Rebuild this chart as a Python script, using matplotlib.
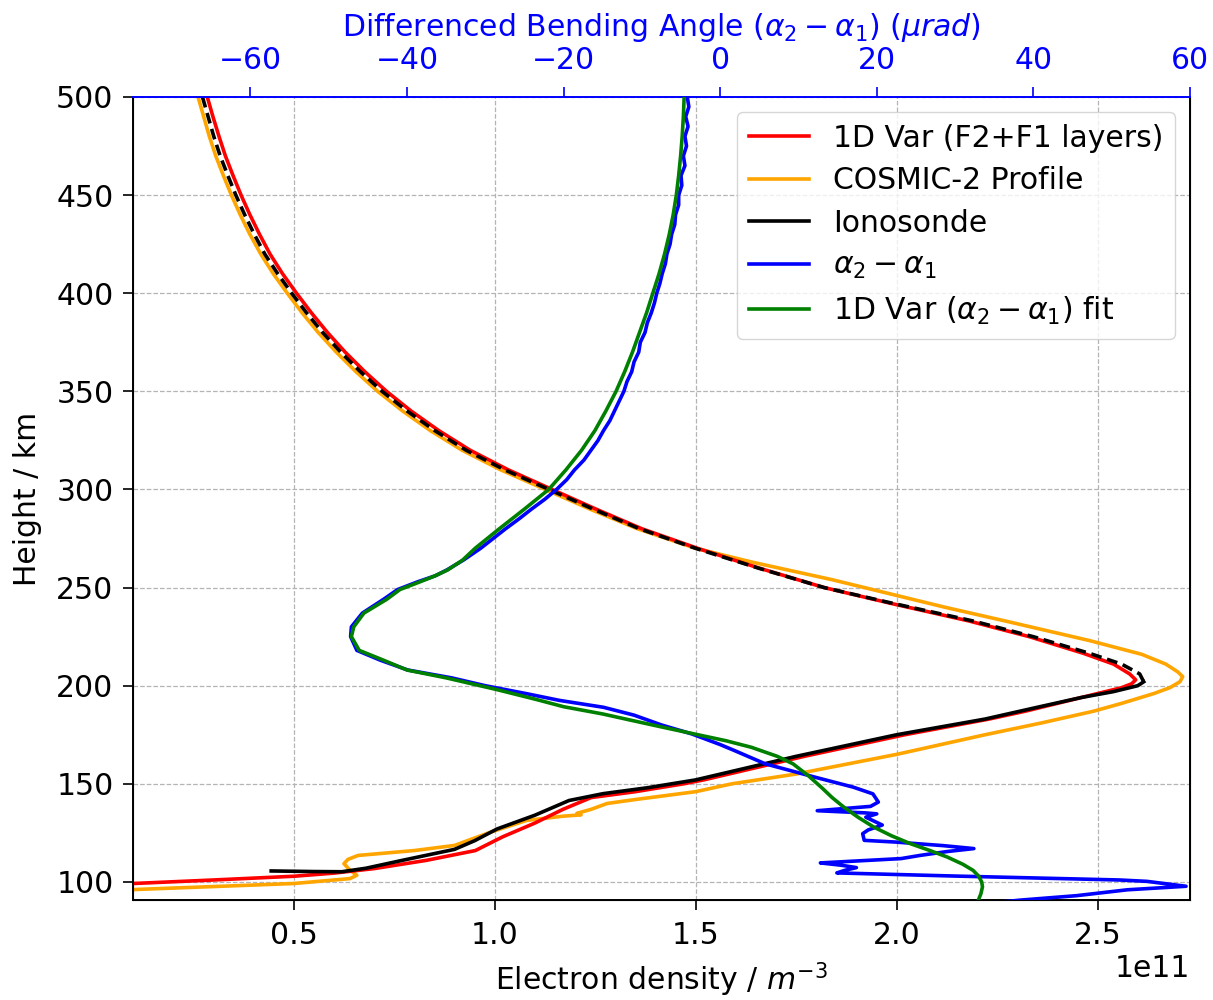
import numpy as np
import matplotlib
matplotlib.use("Agg")
import matplotlib.pyplot as plt

plt.rcParams['font.family'] = ['DejaVu Sans']
plt.rcParams['font.size'] = 21.5

# Electron density profiles (units of 1e11 m^-3) against height (km)
var_h = [500, 490, 480, 470, 460, 450, 440, 430, 420, 410, 400, 390, 380, 370, 360,
         350, 340, 330, 320, 310, 300, 290, 280, 270, 260, 250, 242, 233, 225, 216.5,
         211, 206, 203, 201, 199, 196, 192, 187, 183, 175, 164, 152, 150, 146, 143,
         137, 130, 123, 116, 111, 106.8, 104.5, 102.9, 101, 99.2]
var_ne = [0.285, 0.299, 0.314, 0.330, 0.349, 0.369, 0.391, 0.415, 0.441, 0.472, 0.507,
          0.544, 0.584, 0.628, 0.677, 0.731, 0.792, 0.861, 0.939, 1.034, 1.143, 1.252,
          1.366, 1.505, 1.657, 1.82, 1.985, 2.18, 2.33, 2.465, 2.54, 2.58, 2.595, 2.585,
          2.56, 2.50, 2.42, 2.32, 2.23, 2.02, 1.77, 1.52, 1.47, 1.35, 1.24, 1.17, 1.10,
          1.02, 0.952, 0.83, 0.70, 0.60, 0.50, 0.30, 0.10]

cosmic_h = [500, 490, 480, 470, 460, 450, 440, 430, 420, 410, 400, 390, 380, 370, 360,
            350, 340, 330, 320, 310, 300, 290, 280, 270, 263, 254, 246, 240, 233, 223,
            216, 211, 207, 204.6, 202, 199, 196, 191, 187, 181, 175, 165, 155, 150, 146,
            142, 140, 137, 135, 134.2, 133.5, 131.4, 125.4, 118.6, 116, 113.5, 111.5,
            109.3, 106, 103.4, 101.7, 99.2, 96.1]
cosmic_ne = [0.262, 0.276, 0.290, 0.306, 0.325, 0.345, 0.367, 0.391, 0.418, 0.449, 0.484,
             0.521, 0.561, 0.606, 0.655, 0.709, 0.771, 0.840, 0.919, 1.015, 1.126, 1.237,
             1.355, 1.50, 1.64, 1.84, 2.00, 2.12, 2.27, 2.48, 2.61, 2.67, 2.70, 2.712,
             2.705, 2.68, 2.64, 2.56, 2.49, 2.36, 2.22, 2.0, 1.75, 1.59, 1.50, 1.35, 1.28,
             1.24, 1.205, 1.215, 1.17, 1.08, 0.99, 0.90, 0.80, 0.66, 0.635, 0.625, 0.64,
             0.657, 0.64, 0.50, 0.10]

# Ionosonde: measured bottomside and extrapolated topside
iono_bottom_h = [202, 200, 197, 194, 189, 183, 175, 164, 152, 148, 145, 141.5, 134,
                 127, 121, 116.6, 111, 107, 105.2, 105.3, 105.6]
iono_bottom_ne = [2.615, 2.60, 2.54, 2.46, 2.35, 2.22, 2.0, 1.75, 1.50, 1.38, 1.27,
                  1.185, 1.10, 1.006, 0.95, 0.90, 0.77, 0.68, 0.62, 0.55, 0.444]
iono_top_h = [500, 490, 480, 470, 460, 450, 440, 430, 420, 410, 400, 390, 380, 370,
              360, 350, 340, 330, 320, 310, 300, 290, 280, 270, 260, 250, 242, 233, 225,
              216.5, 211, 206, 202]
iono_top_ne = [0.273, 0.287, 0.301, 0.317, 0.336, 0.356, 0.378, 0.402, 0.428, 0.460,
               0.495, 0.532, 0.572, 0.617, 0.666, 0.720, 0.782, 0.851, 0.929, 1.025,
               1.135, 1.245, 1.36, 1.50, 1.655, 1.82, 1.99, 2.19, 2.34, 2.48, 2.56,
               2.605, 2.615]

# Differenced bending angle (micro-radians) against impact height (km)
dba_h = [500, 495, 490, 485, 480, 475, 470, 465, 460, 455, 450, 445, 440, 435, 430,
         425, 420, 415, 410, 405, 400, 395, 390, 385, 380, 375, 370, 365, 360, 355,
         350, 345, 340, 335, 330, 325, 320, 315, 310, 305, 300, 295, 290, 285, 280,
         275, 270, 264, 259, 256, 253, 249, 244, 237, 230, 225, 218, 213, 208, 204, 200,
         196, 192.5, 189, 185, 180, 175.4, 170, 167, 160.2, 153.4, 148.3, 144.9, 140.7,
         138.5, 136.3, 135.2, 134.7, 133.0, 129.0, 126.5, 124.6, 121.2, 120.3, 118.5,
         117.0, 115.5, 113.5, 111.9, 109.7, 108.5, 107.3, 106.0, 104.6, 103.0, 101.0,
         100.3, 97.8, 96.0, 93.0, 90.7, 90.0]
dba = [-4.2, -4.0, -4.4, -4.1, -4.5, -4.3, -4.7, -4.5, -5.0, -4.9, -5.3, -5.3, -5.7,
       -5.8, -6.2, -6.4, -6.8, -7.0, -7.4, -7.7, -8.1, -8.4, -8.8, -9.3, -9.6, -10.2,
       -10.4, -11.0, -11.3, -11.9, -12.3, -12.9, -13.5, -14.1, -14.9, -15.6, -16.5,
       -17.4, -18.6, -19.6, -20.9, -22.4, -24.1, -25.7, -27.4, -29.0, -30.6, -32.8,
       -34.9, -36.4, -38.6, -41.2, -43.0, -45.7, -47.1, -47.2, -46.4, -43.4, -39.9,
       -34.3, -30.0, -24.8, -20.5, -14.9, -11.0, -7.5, -3.6, 0.0, 1.8, 5.75, 12.1,
       17.0, 19.5, 20.2, 19.2, 12.4, 18.5, 20.0, 18.6, 20.7, 18.9, 18.2, 18.4, 22.5,
       28.5, 32.4, 29.0, 25.5, 23.1, 12.8, 15.5, 17.4, 16.0, 14.9, 30.0, 51.0, 54.5,
       59.5, 52.0, 45.5, 38.2, 36.5]

fit_h = [500, 490, 480, 470, 460, 450, 440, 430, 420, 410, 400, 390, 380, 370, 360,
         350, 340, 330, 320, 310, 300, 290, 280, 270, 264, 259, 256, 253, 249, 244,
         237, 230, 225, 218, 213, 208, 204, 198, 193, 189.3, 185.6, 182.5, 179, 175.4,
         172, 168.6, 164, 160.2, 154, 148.3, 143, 138.1, 133, 128, 123.5, 119.5, 116,
         112.7, 109, 105.9, 103, 100, 97.5, 94, 91]
fit_dba = [-4.6, -4.7, -4.85, -5.05, -5.3, -5.6, -6.0, -6.5, -7.1, -7.8, -8.6, -9.4,
           -10.3, -11.2, -12.2, -13.3, -14.6, -16.0, -17.7, -19.7, -21.9, -25.0, -28.2,
           -31.3, -32.9, -34.8, -36.4, -38.3, -40.9, -42.6, -45.5, -46.8, -47.1, -46.1,
           -43.0, -40.0, -35.0, -28.5, -23.5, -20.0, -15.0, -11.5, -7.5, -3.3, 0.7, 4.0,
           7.3, 9.3, 11.3, 12.9, 14.3, 15.8, 17.6, 19.6, 21.9, 24.3, 26.8, 29.0, 31.0,
           32.3, 33.0, 33.4, 33.5, 33.3, 33.0]

dens_ticks = [0.5, 1.0, 1.5, 2.0, 2.5]
height_ticks = [100, 150, 200, 250, 300, 350, 400, 450, 500]
angle_ticks = [-60, -40, -20, 0, 20, 40, 60]

scale = 1e11
lw = 2.6

fig = plt.figure(figsize=(12.13, 10.0), dpi=100)
ax = fig.add_axes([0.1096, 0.100, 0.8714, 0.803])

ax.plot(np.array(cosmic_ne) * scale, cosmic_h, color='orange', lw=lw, zorder=2)
ax.plot(np.array(var_ne) * scale, var_h, color='red', lw=lw, zorder=3)
ax.plot(np.array(iono_bottom_ne) * scale, iono_bottom_h, color='black', lw=lw, zorder=4)
ax.plot(np.array(iono_top_ne) * scale, iono_top_h, color='black', lw=lw, ls=(0, (3, 1.6)),
        zorder=4)

ax.set_xlim(0.1 * scale, 2.73 * scale)
ax.set_ylim(90.8, 500)
ax.set_xticks(np.array(dens_ticks) * scale)
ax.set_yticks(height_ticks)
ax.grid(True, color='#b4b4b4', ls='--', lw=0.9)
ax.set_axisbelow(True)
ax.set_xlabel('Electron density / $m^{-3}$', labelpad=8)
ax.set_ylabel('Height / km', labelpad=10)
ax.tick_params(axis='x', length=7, width=1.2, pad=8)
ax.tick_params(axis='y', length=7, width=1.2, pad=7)
ax.xaxis.get_offset_text().set_y(-0.01)
for s in ax.spines.values():
    s.set_linewidth(1.4)

ax2 = ax.twiny()
ax2.plot(dba, dba_h, color='blue', lw=lw, zorder=5)
ax2.plot(fit_dba, fit_h, color='green', lw=lw, zorder=6)
ax2.set_xlim(-75, 60)
ax2.set_xticks(angle_ticks)
ax2.set_xlabel(r'Differenced Bending Angle ($\alpha_2 - \alpha_1$) ($\mu rad$)',
               color='blue', labelpad=7)
ax2.tick_params(axis='x', colors='blue', length=7, width=1.2, pad=9)
ax2.spines['top'].set_color('blue')
ax2.spines['top'].set_linewidth(1.4)
ax.spines['top'].set_visible(False)

handles = [
    plt.Line2D([], [], color='red', lw=lw, label='1D Var (F2+F1 layers)'),
    plt.Line2D([], [], color='orange', lw=lw, label='COSMIC-2 Profile'),
    plt.Line2D([], [], color='black', lw=lw, label='Ionosonde'),
    plt.Line2D([], [], color='blue', lw=lw, label=r'$\alpha_2 - \alpha_1$'),
    plt.Line2D([], [], color='green', lw=lw, label=r'1D Var ($\alpha_2 - \alpha_1$) fit'),
]
ax2.legend(handles=handles, loc='upper right', fontsize=21.5, handlelength=2.0,
           borderaxespad=0.5, labelspacing=0.45, framealpha=0.8)

fig.savefig('out.png', dpi=100)
